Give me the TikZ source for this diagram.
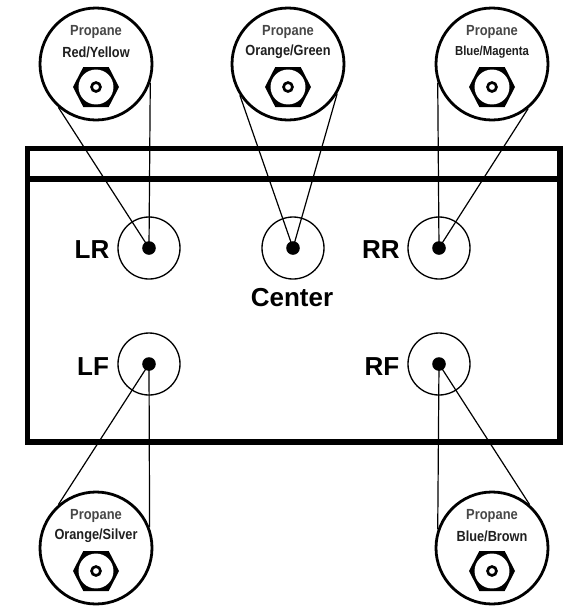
\documentclass[tikz,border=0pt]{standalone}
\usepackage{fontspec}
\setmainfont{Liberation Sans}
\newfontfamily\narrowa[FakeStretch=0.88]{Liberation Sans}
\newfontfamily\narrowb[FakeStretch=0.87]{Liberation Sans}
\tikzset{x=0.75pt,y=-0.75pt,
  wheel/.style={circle,draw=black,line width=1pt,minimum size=46.5pt,inner sep=0pt},
  hub/.style={circle,fill=black,minimum size=10.2pt,inner sep=0pt},
  lens/.style={circle,draw=black,line width=2.1pt,minimum size=84pt,inner sep=0pt},
  leader/.style={draw=black,line width=0.9pt},
  frame/.style={draw=black,line width=4pt,line join=miter},
  corner/.style={font=\bfseries\fontsize{19.5}{19.5}\selectfont,inner sep=0pt},
  small/.style={font=\narrowa\bfseries\fontsize{11}{11}\selectfont,inner sep=0pt,text=black!72},
  tag/.style={font=\narrowb\bfseries\fontsize{11}{11}\selectfont,inner sep=0pt,text=black!88},
  nut/.style={fill=black},
  nuthole/.style={circle,fill=white,minimum size=26.2pt,inner sep=0pt},
  ring/.style={circle,draw=black,line width=2pt,minimum size=6.7pt,inner sep=0pt}}
\newcommand{\hexnut}[2]{%
  \fill[nut] (#1-23,#2) -- (#1-12.7,#2-20) -- (#1+12.7,#2-20) -- (#1+23,#2) -- (#1+12.7,#2+20) -- (#1-12.7,#2+20) -- cycle;
  \node[nuthole] at (#1,#2) {};
  \node[ring] at (#1,#2) {};}
\newcommand{\propbubble}[4]{% name,x,y,label
  \node[lens,fill=white] (#1) at (#2,#3) {};
  \node[small] (#1t) at (#2,#3-32) {Propane};
  \node[tag] (#1l) at (#2,#3-12) {#4};
  \hexnut{#2}{#3+23}}
\begin{document}
\begin{tikzpicture}
\useasboundingbox (0,0) rectangle (569,608);
\draw[frame] (27.5,148.7) rectangle (560,442);
\draw[frame] (27.5,179) -- (560,179);
\node[wheel] (lr) at (149,248) {};
\node[wheel] (ce) at (293,248) {};
\node[wheel] (rr) at (439,248) {};
\node[wheel] (lf) at (149,364) {};
\node[wheel] (rf) at (439,364) {};
\node[hub] (lrh) at (149,248) {};
\node[hub] (ceh) at (293,248) {};
\node[hub] (rrh) at (439,248) {};
\node[hub] (lfh) at (149,364) {};
\node[hub] (rfh) at (439,364) {};
\node[corner] at (92,250) {LR};
\node[corner] at (381,250) {RR};
\node[corner] at (93,367) {LF};
\node[corner] at (382,367) {RF};
\node[corner] at (292,298) {Center};
\propbubble{a}{96}{64}{Red/Yellow}
\propbubble{b}{288}{64}{Orange/Green}
\propbubble{c}{492}{64}{\fontsize{9.8}{9.8}\selectfont Blue/Magenta}
\propbubble{d}{96}{548}{Orange/Silver}
\propbubble{e}{492}{548}{Blue/Brown}
\draw[leader] (a.229) -- (lrh.center);
\draw[leader] (a.-19.7) -- (lrh.center);
\draw[leader] (b.213) -- (ceh.center);
\draw[leader] (b.-31.8) -- (ceh.center);
\draw[leader] (c.199) -- (rrh.center);
\draw[leader] (c.-51) -- (rrh.center);
\draw[leader] (d.131.5) -- (lfh.center);
\draw[leader] (d.21.6) -- (lfh.center);
\draw[leader] (e.161.6) -- (rfh.center);
\draw[leader] (e.49.8) -- (rfh.center);
\end{tikzpicture}
\end{document}
